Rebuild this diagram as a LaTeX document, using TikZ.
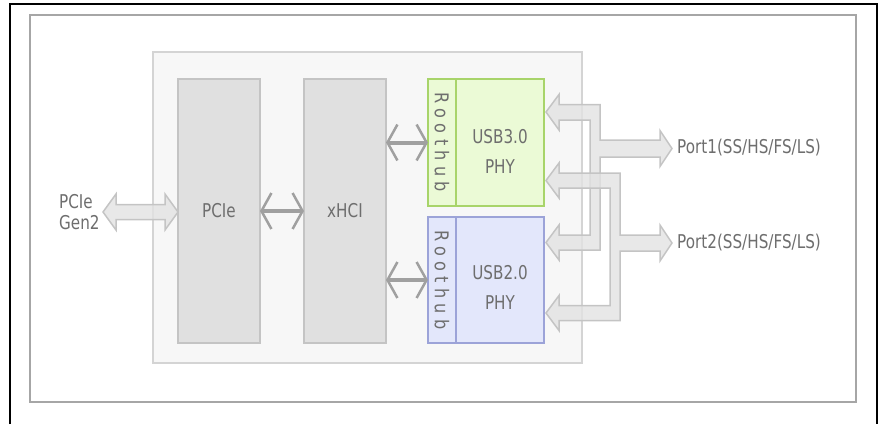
\documentclass[tikz,border=0pt]{standalone}
\usepackage{fontspec}
\setmainfont{DejaVu Sans}[FakeStretch=0.8]
\newfontfamily\hubfont{DejaVu Sans}[FakeStretch=0.85,LetterSpace=28]
\usepackage{xcolor}
\usepackage{tikz}
\usetikzlibrary{arrows.meta, positioning, calc}

\definecolor{txtgray}{HTML}{6E6E6E}
\definecolor{blockfill}{HTML}{E0E0E0}
\definecolor{blockline}{HTML}{C4C4C4}
\definecolor{chipfill}{HTML}{F7F7F7}
\definecolor{chipline}{HTML}{D4D4D4}
\definecolor{busfill}{HTML}{E2E2E2}
\definecolor{busline}{HTML}{C4C4C4}
\definecolor{linkgray}{HTML}{A0A0A0}
\definecolor{framegray}{HTML}{A6A6A6}
\definecolor{usbthreefill}{HTML}{EBFAD6}
\definecolor{usbthreeline}{HTML}{A8D46A}
\definecolor{usbtwofill}{HTML}{E3E7FB}
\definecolor{usbtwoline}{HTML}{9CA3D8}

\begin{document}
\begin{tikzpicture}[x=1pt, y=-1pt,
  box/.style={line width=1.5pt, outer sep=0pt, inner sep=0pt, align=center, text=txtgray, font=\fontsize{19}{30}\selectfont},
  block/.style={box, draw=blockline, fill=blockfill, minimum width=82pt, minimum height=264pt},
  hubthree/.style={box, draw=usbthreeline, fill=usbthreefill, minimum width=28pt, minimum height=127pt},
  phythree/.style={box, draw=usbthreeline, fill=usbthreefill, minimum width=88pt, minimum height=127pt},
  hubtwo/.style={box, draw=usbtwoline, fill=usbtwofill, minimum width=28pt, minimum height=126pt},
  phytwo/.style={box, draw=usbtwoline, fill=usbtwofill, minimum width=88pt, minimum height=126pt},
  chip/.style={draw=chipline, fill=chipfill, line width=1.5pt, minimum width=429pt, minimum height=311pt},
  txt/.style={text=txtgray, font=\fontsize{19}{21}\selectfont, inner sep=0pt, align=left},
  phytxt/.style={text=txtgray, font=\fontsize{19}{30}\selectfont, inner sep=0pt, align=center},
  link/.style={<->, >={Straight Barb[length=10pt, width=36pt, line width=2.5pt]}, line width=4pt, draw=linkgray},
  bus/.style={fill=busfill, fill opacity=0.8, draw=busline, line width=1.5pt, line join=miter}
]
  \useasboundingbox (0,0) rectangle (881,424);

  % Frames
  \draw[line width=2pt] (10,424) -- (10,4) -- (877,4) -- (877,424);
  \draw[framegray, line width=2pt] (30,15) rectangle (856,402);

  % Chip
  \node[chip] (chip) at (367.5,207.5) {};
  \node[block] (pcie) at (219,211) {PCIe};
  \node[block, right=44pt of pcie] (xhci) {xHCI};
  \node[hubthree, right=42pt of xhci.north east, anchor=north west] (hub3) {\rotatebox{-90}{\hubfont\fontsize{19}{20}\selectfont Roothub}};
  \node[phythree, right=0pt of hub3] (phy3) {};
  \node[phytxt] (phy3txt) at ($(phy3.center)+(0,9)$) {USB3.0\\PHY};
  \node[hubtwo, below=11pt of hub3.south west, anchor=north west] (hub2) {\rotatebox{-90}{\hubfont\fontsize{19}{20}\selectfont Roothub}};
  \node[phytwo, right=0pt of hub2] (phy2) {};
  \node[phytxt] (phy2txt) at ($(phy2.center)+(0,7)$) {USB2.0\\PHY};

  \draw[link] (pcie) -- (xhci);
  \draw[link] (xhci.east |- hub3.west) -- (hub3.west);
  \draw[link] (xhci.east |- hub2.west) -- (hub2.west);

  % Host side
  \node[txt, anchor=west] (gen2) at (59,212) {PCIe\\Gen2};
  \draw[bus] (103,212) -- (116,194) -- (116,204.5) -- (165,204.5) -- (165,194) -- (178,212)
    -- (165,230) -- (165,219.5) -- (116,219.5) -- (116,230) -- cycle;

  % Ports
  \node[txt, anchor=west] (port1) at (677,148) {Port1(SS/HS/FS/LS)};
  \node[txt, anchor=west] (port2) at (677,243) {Port2(SS/HS/FS/LS)};

  \draw[bus] (546,112) -- (559,94.5) -- (559,104.5) -- (600,104.5) -- (600,140) -- (660,140)
    -- (660,130.5) -- (672,148.5) -- (660,166.5) -- (660,157) -- (600,157) -- (600,250)
    -- (559,250) -- (559,260) -- (546,242.5) -- (559,225) -- (559,235) -- (590,235)
    -- (590,120) -- (559,120) -- (559,130) -- cycle;
  \draw[bus] (546,180.5) -- (559,163) -- (559,173) -- (620,173) -- (620,235) -- (660,235)
    -- (660,225) -- (672,243) -- (660,261) -- (660,251) -- (620,251) -- (620,320.5)
    -- (559,320.5) -- (559,330.5) -- (546,313) -- (559,295.5) -- (559,305.5) -- (610,305.5)
    -- (610,188) -- (559,188) -- (559,198) -- cycle;
\end{tikzpicture}
\end{document}
